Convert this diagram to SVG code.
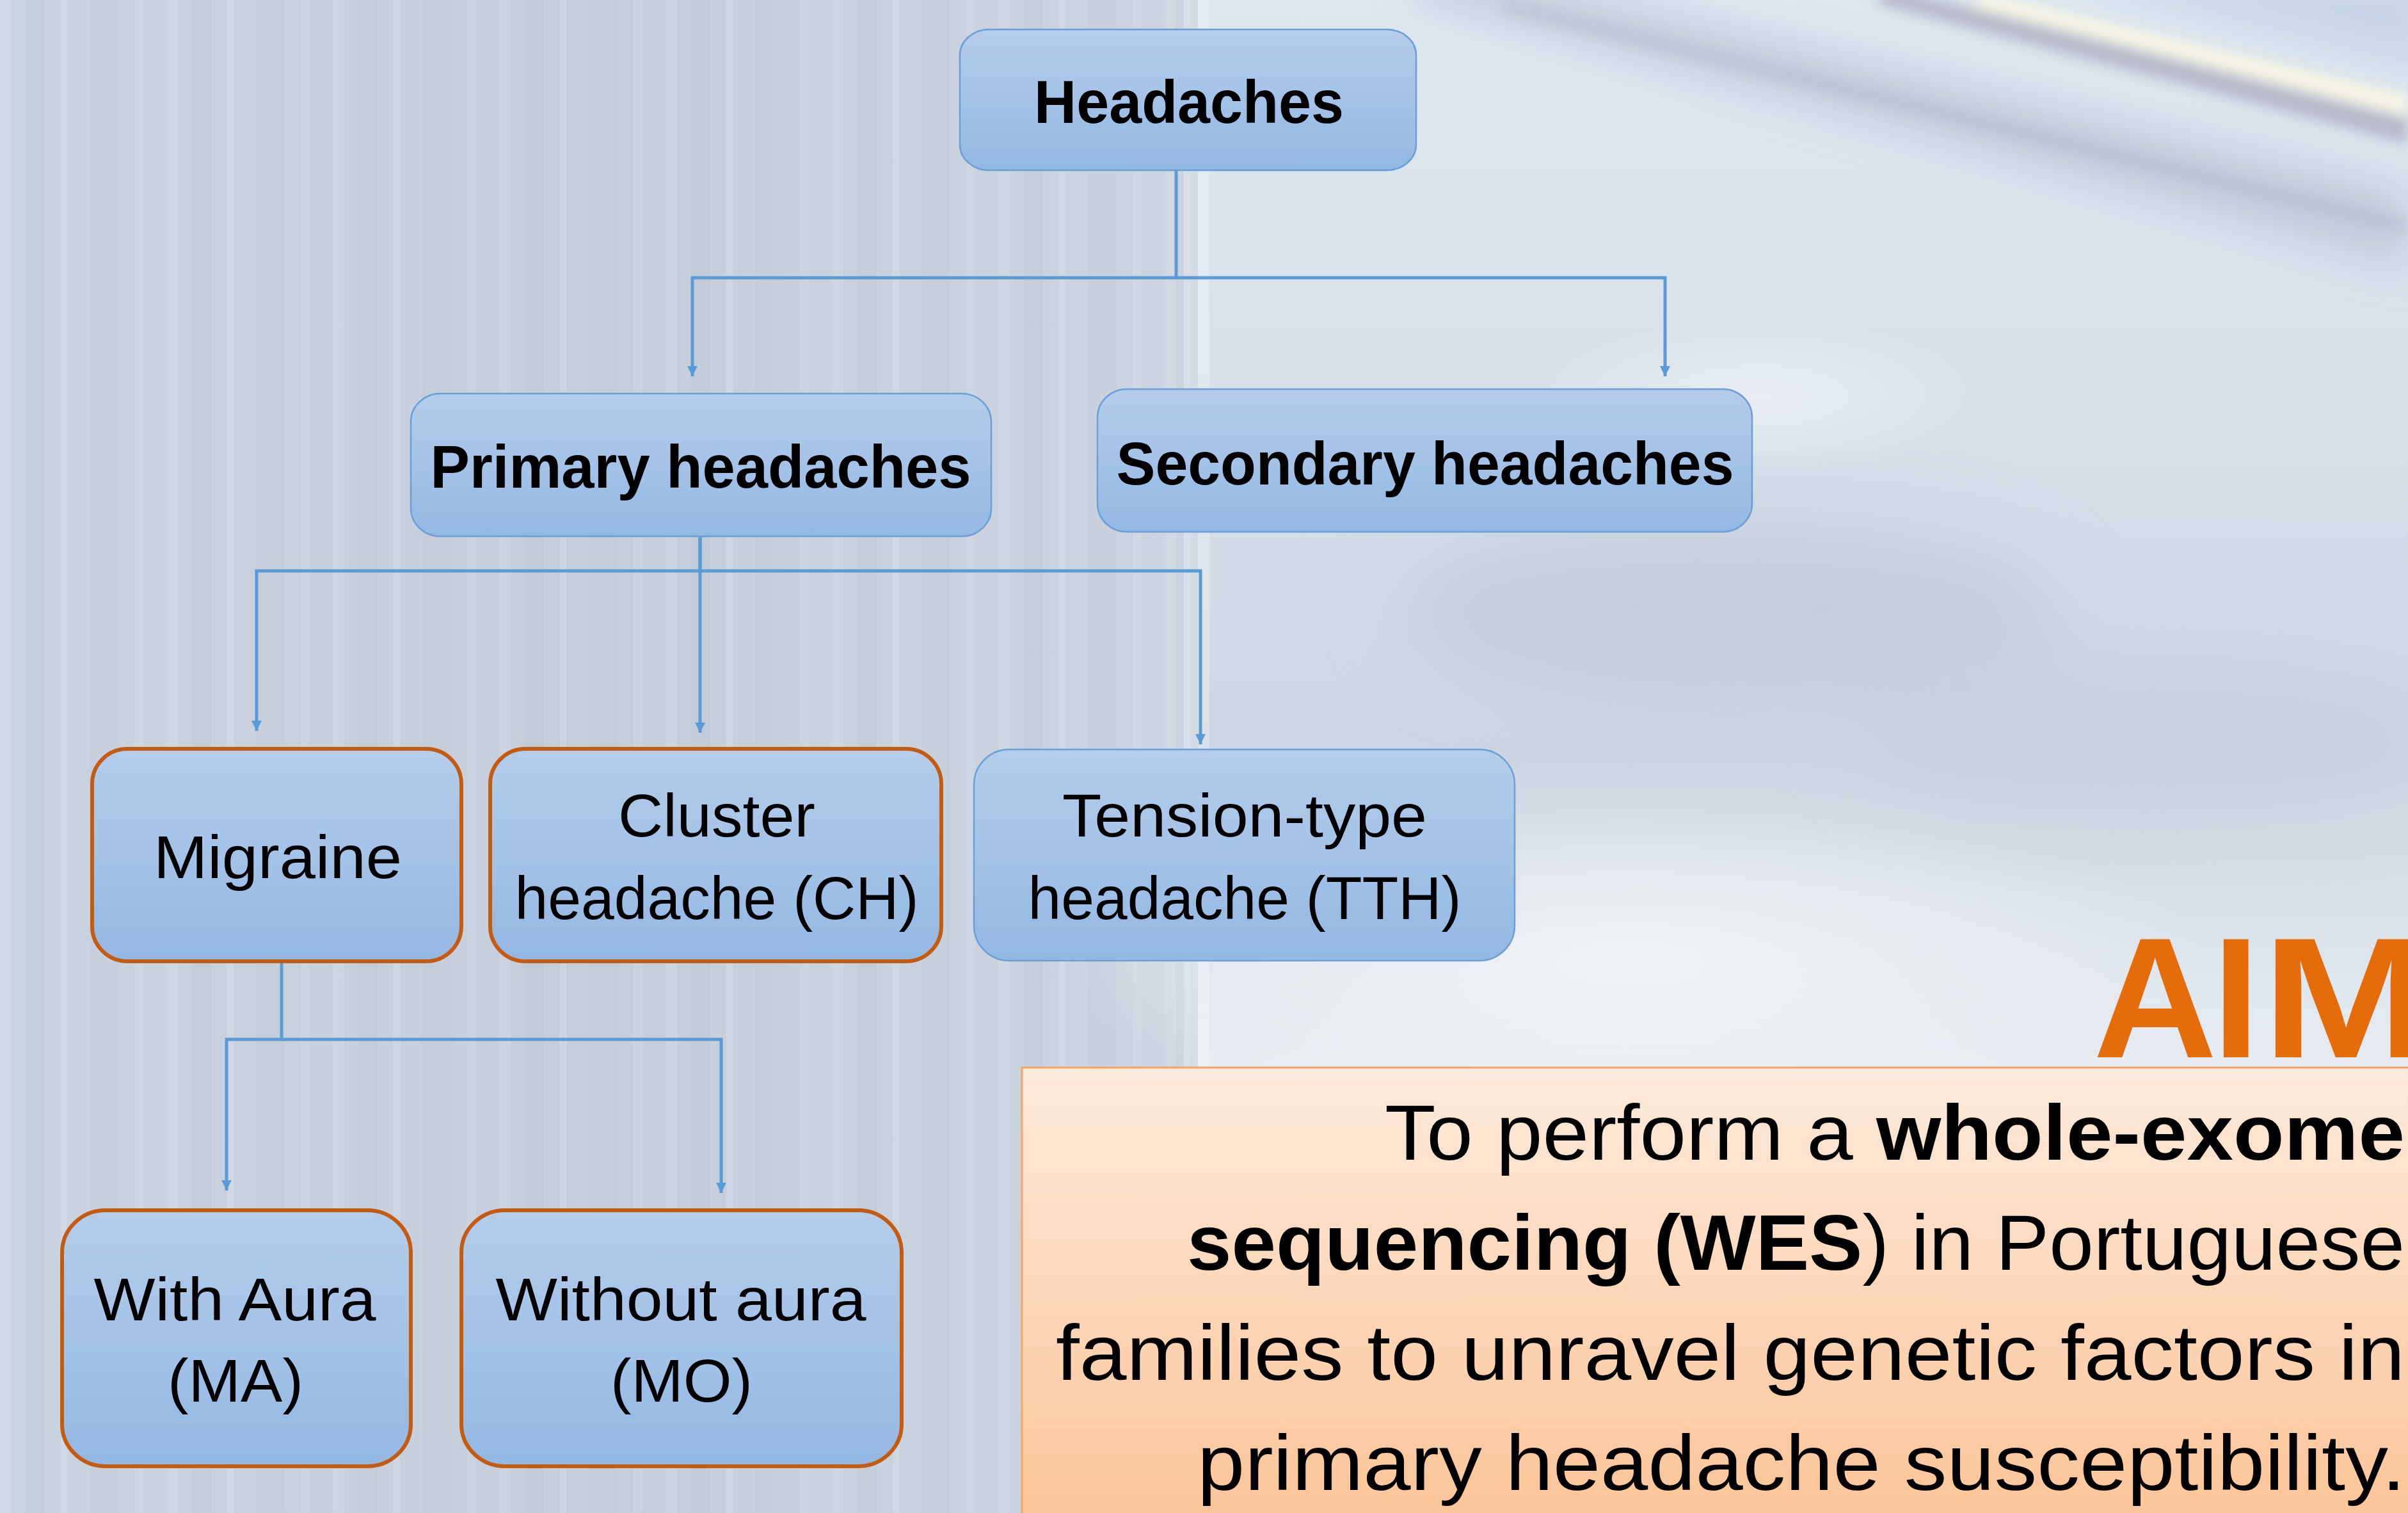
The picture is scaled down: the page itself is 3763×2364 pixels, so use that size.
<svg xmlns="http://www.w3.org/2000/svg" width="3763" height="2364" viewBox="0 0 3763 2364">
<style>
.node rect{fill:url(#boxGrad)}
.blue{stroke:#6C9FD6;stroke-width:2.5}
.orng{stroke:#C55A11;stroke-width:6}
.t{font-family:"Liberation Sans",Arial,sans-serif;font-size:94px;fill:#000;text-anchor:middle}
.b{font-weight:bold}
.conn path{fill:none;stroke:#5B9BD5;stroke-width:5;marker-end:url(#arr)}
.aim{font-family:"Liberation Sans",Arial,sans-serif;font-size:122px;fill:#000}
</style>
<defs>
<linearGradient id="boxGrad" x1="0" y1="0" x2="0" y2="1">
<stop offset="0" stop-color="#B4CDEA"/>
<stop offset="1" stop-color="#93B8E3"/>
</linearGradient>
<linearGradient id="aimGrad" x1="0" y1="0" x2="0" y2="1">
<stop offset="0" stop-color="#FDEADB"/>
<stop offset="1" stop-color="#FBC08F"/>
</linearGradient>
<linearGradient id="bgLeft" x1="0" y1="0" x2="1" y2="0">
<stop offset="0" stop-color="#CAD4E0"/>
<stop offset="0.5" stop-color="#C5CEDA"/>
<stop offset="1" stop-color="#CCD5DF"/>
</linearGradient>
<linearGradient id="bgRight" x1="0" y1="0" x2="0" y2="1">
<stop offset="0" stop-color="#DCE7EF"/>
<stop offset="0.3" stop-color="#D6E0E9"/>
<stop offset="0.5" stop-color="#CDD6E0"/>
<stop offset="0.72" stop-color="#E8EEF3"/>
<stop offset="1" stop-color="#D8E0E8"/>
</linearGradient>
<radialGradient id="glow" cx="0.5" cy="0.5" r="0.5">
<stop offset="0" stop-color="#F2F5F8" stop-opacity="0.9"/>
<stop offset="1" stop-color="#F2F5F8" stop-opacity="0"/>
</radialGradient>
<pattern id="stripes" width="260" height="100" patternUnits="userSpaceOnUse">
<rect x="0" y="0" width="18" height="100" fill="#FFFFFF" opacity="0.1"/>
<rect x="40" y="0" width="30" height="100" fill="#A9B4C4" opacity="0.12"/>
<rect x="95" y="0" width="10" height="100" fill="#FFFFFF" opacity="0.14"/>
<rect x="140" y="0" width="45" height="100" fill="#B3BDCB" opacity="0.1"/>
<rect x="210" y="0" width="14" height="100" fill="#FFFFFF" opacity="0.08"/>
</pattern>
<filter id="blur" x="-20%" y="-50%" width="140%" height="200%"><feGaussianBlur stdDeviation="10"/></filter>
<filter id="blurW" x="-20%" y="-50%" width="140%" height="200%"><feGaussianBlur stdDeviation="30"/></filter>
<filter id="blur2" x="-20%" y="-20%" width="140%" height="140%"><feGaussianBlur stdDeviation="60"/></filter>
<marker id="arr" markerUnits="userSpaceOnUse" viewBox="0 0 16 20" markerWidth="16" markerHeight="20" refX="16" refY="8" orient="auto">
<path d="M0 0 L16 8 L0 16 Z" fill="#5B9BD5"/>
</marker>
</defs>

<g id="background">
<rect x="0" y="0" width="3763" height="2364" fill="url(#bgRight)"/>
<rect x="0" y="0" width="1872" height="2364" fill="url(#bgLeft)"/>
<rect x="0" y="0" width="1872" height="2364" fill="url(#stripes)"/>
<rect x="1850" y="0" width="40" height="2364" fill="#FFFFFF" opacity="0.25"/>
<ellipse cx="2550" cy="1500" rx="900" ry="260" fill="url(#glow)"/>
<ellipse cx="2750" cy="620" rx="350" ry="120" fill="url(#glow)" opacity="0.7"/>
<g filter="url(#blur2)" opacity="0.5">
<ellipse cx="2700" cy="950" rx="520" ry="150" fill="#B9C4D2"/>
<ellipse cx="3350" cy="1150" rx="450" ry="140" fill="#C3CDD9"/>
</g>
<g filter="url(#blurW)">
<path d="M2250 -60 L3763 300 L3763 420 L2200 -10 Z" fill="#C0C7D8" opacity="0.85"/>
<path d="M3200 -40 L3800 110 L3800 -40 Z" fill="#C2D2E6" opacity="0.8"/>
</g>
<g filter="url(#blur)">
<path d="M2350 0 L3763 345 L3763 365 L2350 18 Z" fill="#B0B7CA" opacity="0.6"/>
<path d="M2950 -20 L3763 185 L3763 225 L2930 5 Z" fill="#B4B6C3" opacity="0.9"/>
<path d="M3100 -10 L3763 150 L3763 180 L3080 8 Z" fill="#FAF6E2" opacity="1"/>
</g>
</g>

<g id="connectors" class="conn">
<path d="M1838 266 V434 H1082 V588"/>
<path d="M1838 434 H2602 V588"/>
<path d="M1094 838 V892 H401 V1142"/>
<path d="M1094 838 V1145"/>
<path d="M1094 892 H1876 V1163"/>
<path d="M440 1502 V1624 H354 V1860"/>
<path d="M440 1624 H1127 V1864"/>
</g>

<g id="headaches" class="node">
<rect class="blue" x="1500" y="46" width="713" height="220" rx="46" ry="40"/>
<text class="t b" x="1858" y="192" textLength="484" lengthAdjust="spacingAndGlyphs">Headaches</text>
</g>
<g id="primary" class="node">
<rect class="blue" x="642" y="615" width="907" height="223" rx="46" ry="44"/>
<text class="t b" x="1095" y="762" textLength="845" lengthAdjust="spacingAndGlyphs">Primary headaches</text>
</g>
<g id="secondary" class="node">
<rect class="blue" x="1715" y="608" width="1023" height="223" rx="46" ry="44"/>
<text class="t b" x="2227" y="757" textLength="965" lengthAdjust="spacingAndGlyphs">Secondary headaches</text>
</g>
<g id="migraine" class="node">
<rect class="orng" x="144" y="1170" width="577" height="332" rx="55" ry="55"/>
<text class="t" x="434" y="1372" textLength="388" lengthAdjust="spacingAndGlyphs">Migraine</text>
</g>
<g id="cluster" class="node">
<rect class="orng" x="766" y="1170" width="705" height="332" rx="55" ry="55"/>
<text class="t" x="1120" y="1307" textLength="308" lengthAdjust="spacingAndGlyphs">Cluster</text>
<text class="t" x="1120" y="1436" textLength="631" lengthAdjust="spacingAndGlyphs">headache (CH)</text>
</g>
<g id="tension" class="node">
<rect class="blue" x="1522" y="1171" width="845" height="330" rx="55" ry="55"/>
<text class="t" x="1945" y="1307" textLength="570" lengthAdjust="spacingAndGlyphs">Tension-type</text>
<text class="t" x="1945" y="1436" textLength="677" lengthAdjust="spacingAndGlyphs">headache (TTH)</text>
</g>
<g id="with-aura" class="node">
<rect class="orng" x="97" y="1891" width="545" height="400" rx="68" ry="66"/>
<text class="t" x="367" y="2063" textLength="441" lengthAdjust="spacingAndGlyphs">With Aura</text>
<text class="t" x="368" y="2190" textLength="212" lengthAdjust="spacingAndGlyphs">(MA)</text>
</g>
<g id="without-aura" class="node">
<rect class="orng" x="721" y="1891" width="688" height="400" rx="68" ry="66"/>
<text class="t" x="1064" y="2063" textLength="579" lengthAdjust="spacingAndGlyphs">Without aura</text>
<text class="t" x="1065" y="2190" textLength="222" lengthAdjust="spacingAndGlyphs">(MO)</text>
</g>

<g id="aim">
<text y="1652" font-family="Liberation Sans, Arial, sans-serif" font-weight="bold" font-size="268" fill="#E46C0A"><tspan x="3271">A</tspan><tspan x="3457">I</tspan><tspan x="3535" textLength="262" lengthAdjust="spacingAndGlyphs">M</tspan></text>
<rect x="1597" y="1668" width="2300" height="800" fill="url(#aimGrad)" stroke="#F5A56A" stroke-width="3"/>
<text class="aim" x="2164" y="1812" textLength="1594" lengthAdjust="spacingAndGlyphs">To perform a <tspan font-weight="bold">whole-exome</tspan></text>
<text class="aim" x="1855" y="1984" textLength="1903" lengthAdjust="spacingAndGlyphs"><tspan font-weight="bold">sequencing (WES</tspan>) in Portuguese</text>
<text class="aim" x="1650" y="2156" textLength="2108" lengthAdjust="spacingAndGlyphs">families to unravel genetic factors in</text>
<text class="aim" x="1871" y="2328" textLength="1888" lengthAdjust="spacingAndGlyphs">primary headache susceptibility.</text>
</g>
</svg>
